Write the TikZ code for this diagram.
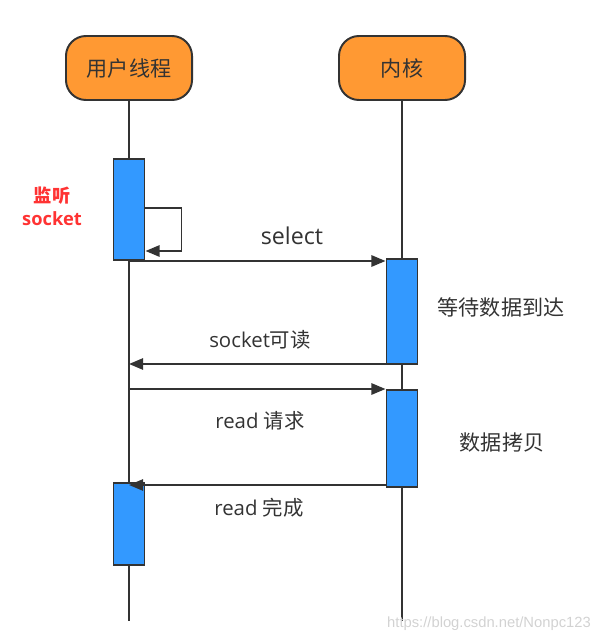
\documentclass[tikz,border=0pt]{standalone}
\usepackage{fontspec}
\setmainfont{Open Sans}
\newfontfamily\cjk{Noto Sans CJK SC}
\newfontfamily\wmfont{Liberation Sans}
\usetikzlibrary{arrows.meta, positioning, calc}
\definecolor{actorfill}{RGB}{255,153,51}
\definecolor{barblue}{RGB}{51,153,255}
\definecolor{linegray}{RGB}{51,51,51}
\definecolor{notered}{RGB}{255,51,51}

\begin{document}
\begin{tikzpicture}[
  x=0.025cm, y=-0.025cm,
  every node/.style={font=\fontsize{14.5}{17}\selectfont, text=linegray},
  actor/.style={draw=linegray, line width=1.4pt, fill=actorfill, rounded corners=0.5cm,
                minimum width=3.15cm, minimum height=1.6cm, font=\cjk\fontsize{15}{17}\selectfont},
  lifeline/.style={draw=linegray, line width=1.4pt},
  actbar/.style={draw=linegray, line width=1.4pt, fill=barblue, minimum width=0.775cm,
                 anchor=north, inner sep=0pt},
  msg/.style={-{Triangle[length=10pt,width=8pt]}, line width=1.4pt, draw=linegray},
  note/.style={font=\cjk\fontsize{15}{17}\selectfont},
]
\useasboundingbox (0,0) rectangle (606,643);

% Actors
\node[actor] (user) at (129,68) {用户线程};
\node[actor] (kernel) at (402,68) {内核};

% Lifelines
\coordinate (userend) at (129,621);
\coordinate (kernelend) at (402,621);
\draw[lifeline] (user.south) -- (userend);
\draw[lifeline] (kernel.south) -- (kernelend);

% Activation bars
\node[actbar, minimum height=2.525cm] (bar1) at (129,158) {};
\node[actbar, minimum height=2.625cm] (bar2) at (402,258) {};
\node[actbar, minimum height=2.425cm] (bar3) at (402,389) {};
\node[actbar, minimum height=2.05cm] (bar4) at (129,482) {};

% Listening socket (self call)
\node[font=\cjk\bfseries\fontsize{13}{15}\selectfont, text=notered] (listen) at (52,196) {监听};
\node[font=\bfseries\fontsize{13}{15}\selectfont, text=notered, below=-2pt of listen] (listensock) {socket};
\coordinate (loopstart) at ($(bar1.north east)+(0,50)$);
\coordinate (loopend) at ($(bar1.north east)+(0,93)$);
\draw[msg] (loopstart) -- ++(36,0) |- (loopend);

% select
\coordinate (sel) at (129,261);
\draw[msg] (sel) -- (sel -| bar2.west);
\node[font=\fontsize{16.5}{18}\selectfont] (sellabel) at (292,236) {select};
\node[note] (wait) at (501,307) {等待数据到达};

% socket readable
\coordinate (readable) at ($(bar2.south west)+(0,-1)$);
\draw[msg] (readable) -- (readable -| userend);
\node (readablelabel) at (260,340) {socket{\cjk 可读}};

% read request
\coordinate (readreq) at (129,389);
\draw[msg] (readreq) -- (readreq -| bar3.west);
\node (readreqlabel) at (260,421) {read {\cjk 请求}};
\node[note] (copy) at (502,443) {数据拷贝};

% read done
\coordinate (readdone) at ($(bar3.south west)+(0,-3)$);
\draw[msg] (readdone) -- (readdone -| bar4.north);
\node (readdonelabel) at (259,508) {read {\cjk 完成}};

% watermark
\node[font=\wmfont\fontsize{10.5}{12}\selectfont, text=gray!35] (mark) at (489,624) {https://blog.csdn.net/Nonpc123};
\end{tikzpicture}
\end{document}
